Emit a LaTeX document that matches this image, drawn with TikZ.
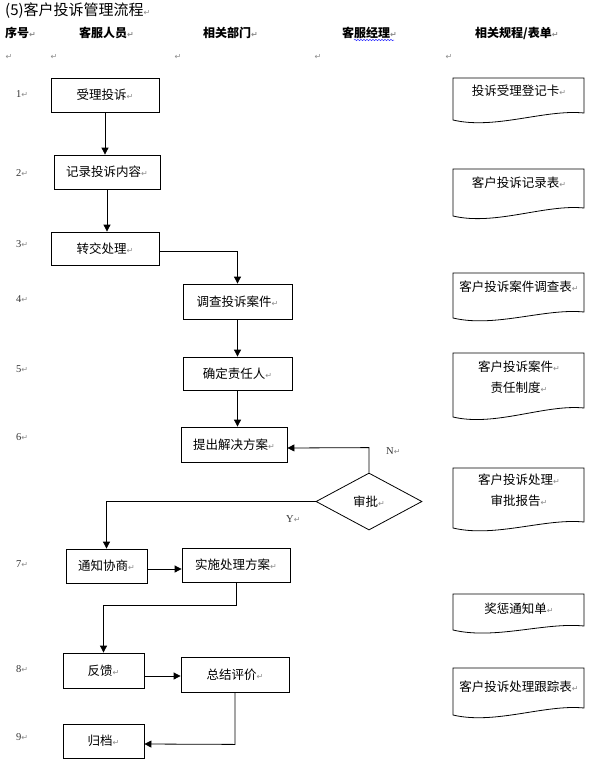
\documentclass[tikz,border=0pt]{standalone}
\usepackage{fontspec}
\setmainfont{Noto Sans CJK SC}
\newfontfamily\markfont{DejaVu Sans}
\newfontfamily\numfont{Liberation Serif}
\usetikzlibrary{shapes.geometric,arrows.meta,calc,decorations.pathmorphing}
\newcommand\pmk{{\markfont\fontsize{8}{8}\selectfont\textcolor{black!45}{↵}}}
\newcommand\docshape[3]{% top, bottom-left, bottom-right
  \draw[ln] (453,#1) -- (584,#1) -- (584,#3) .. controls (545,{#3-4}) and (495,{#2+10}) .. (453,#2) -- cycle;}
\begin{document}
\begin{tikzpicture}[x=1pt,y=-1pt,
  ln/.style={line width=0.8pt},
  box/.style={draw, line width=0.8pt, inner sep=0pt, font=\fontsize{12.5}{15}\selectfont},
  arr/.style={line width=0.8pt, -{Triangle[length=7pt,width=7pt]}},
  num/.style={font=\numfont\fontsize{10.5}{12}\selectfont, text=black!80, anchor=west, inner sep=0pt},
  hdr/.style={font=\bfseries\fontsize{12}{14}\selectfont, anchor=west, inner sep=0pt},
  pm/.style={inner sep=0pt},
  doctext/.style={inner sep=0pt, align=center, font=\fontsize{12.5}{21}\selectfont}]
\useasboundingbox (0,0) rectangle (593,764);
\fill[white] (0,0) rectangle (593,764);

% title and headers
\node[anchor=west, inner sep=0pt, font=\fontsize{15}{18}\selectfont] (title) at (5,11) {(5)客户投诉管理流程\pmk};
\node[hdr] (h1) at (5,33) {序号\pmk};
\node[hdr] (h2) at (79,33) {客服人员\pmk};
\node[hdr] (h3) at (203,33) {相关部门\pmk};
\node[hdr] (h4) at (342,33) {客服经理\pmk};
\node[hdr] (h5) at (475,33) {相关规程/表单\pmk};
\draw[blue!80, line width=0.5pt, decorate, decoration={snake, amplitude=0.7pt, segment length=3pt}] (354,40) -- (394,40);
\node[pm] (m1) at (9,57) {\pmk};
\node[pm] (m2) at (54,57) {\pmk};
\node[pm] (m3) at (178,57) {\pmk};
\node[pm] (m4) at (318,57) {\pmk};
\node[pm] (m5) at (449,57) {\pmk};

% row numbers
\node[num] (n1) at (16,94) {1\pmk};
\node[num] (n2) at (16,173) {2\pmk};
\node[num] (n3) at (16,244) {3\pmk};
\node[num] (n4) at (16,299) {4\pmk};
\node[num] (n5) at (16,369) {5\pmk};
\node[num] (n6) at (16,437) {6\pmk};
\node[num] (n7) at (16,564) {7\pmk};
\node[num] (n8) at (16,669) {8\pmk};
\node[num] (n9) at (16,737) {9\pmk};

% process boxes
\node[box, minimum width=108pt, minimum height=34pt] (b1) at (105,95) {受理投诉\pmk};
\node[box, minimum width=106pt, minimum height=34pt] (b2) at (107,172) {记录投诉内容\pmk};
\node[box, minimum width=108pt, minimum height=33pt] (b3) at (105,248.5) {转交处理\pmk};
\node[box, minimum width=109pt, minimum height=35pt] (b4) at (237.5,301.5) {调查投诉案件\pmk};
\node[box, minimum width=109pt, minimum height=33pt] (b5) at (237.5,373.5) {确定责任人\pmk};
\node[box, minimum width=106pt, minimum height=35pt] (b6) at (234,444.5) {提出解决方案\pmk};
\node[box, diamond, minimum width=106pt, minimum height=57pt] (d) at (369,501.5) {审批\pmk};
\node[box, minimum width=81pt, minimum height=34pt] (b7a) at (106.5,566) {通知协商\pmk};
\node[box, minimum width=108pt, minimum height=34pt] (b7b) at (236,565) {实施处理方案\pmk};
\node[box, minimum width=81pt, minimum height=35pt] (b8a) at (103.5,670.5) {反馈\pmk};
\node[box, minimum width=108pt, minimum height=35pt] (b8b) at (235,674.5) {总结评价\pmk};
\node[box, minimum width=81pt, minimum height=34pt] (b9) at (103.5,741) {归档\pmk};

% connectors
\draw[arr] (b1.south) -- (b1.south |- b2.north);
\draw[arr] (b2.south) -- (b2.south |- b3.north);
\draw[arr] ($(b3.east)+(0,2.5)$) -| (b4.north);
\draw[arr] (b4.south) -- (b5.north);
\draw[arr] (b5.south) -- (b5.south |- b6.north);
\draw[arr] (d.north) -- ++(0,-25) -- ($(b6.east)+(0,3.5)$);
\draw[arr] (d.west) -| (b7a.north);
\draw[arr] ($(b7a.east)+(0,3)$) -- ($(b7a.east -| b7b.west)+(0,3)$);
\draw[arr] (b7b.south) -- ++(0,23) -| (b8a.north);
\draw[arr] ($(b8a.east)+(0,5.5)$) -- ($(b8a.east -| b8b.west)+(0,5.5)$);
\draw[arr] (b8b.south) -- ++(0,52) -- ($(b9.east)+(0,3)$);
\node[num] (lN) at (386,451) {N\pmk};
\node[num] (lY) at (286,519) {Y\pmk};

% documents
\docshape{78}{120}{113}
\docshape{169}{216}{208}
\docshape{273}{318}{312}
\docshape{353}{417}{408}
\docshape{468}{528}{522}
\docshape{594}{630}{626}
\docshape{668}{715}{708}
\node[doctext] (t1) at (519,91) {投诉受理登记卡\pmk};
\node[doctext] (t2) at (519,183) {客户投诉记录表\pmk};
\node[doctext] (t3) at (519,287) {客户投诉案件调查表\pmk};
\node[doctext] (t4) at (519,377.5) {客户投诉案件\pmk\\责任制度\pmk};
\node[doctext] (t5) at (519,490.5) {客户投诉处理\pmk\\审批报告\pmk};
\node[doctext] (t6) at (519,609) {奖惩通知单\pmk};
\node[doctext] (t7) at (519,687) {客户投诉处理跟踪表\pmk};
\end{tikzpicture}
\end{document}
